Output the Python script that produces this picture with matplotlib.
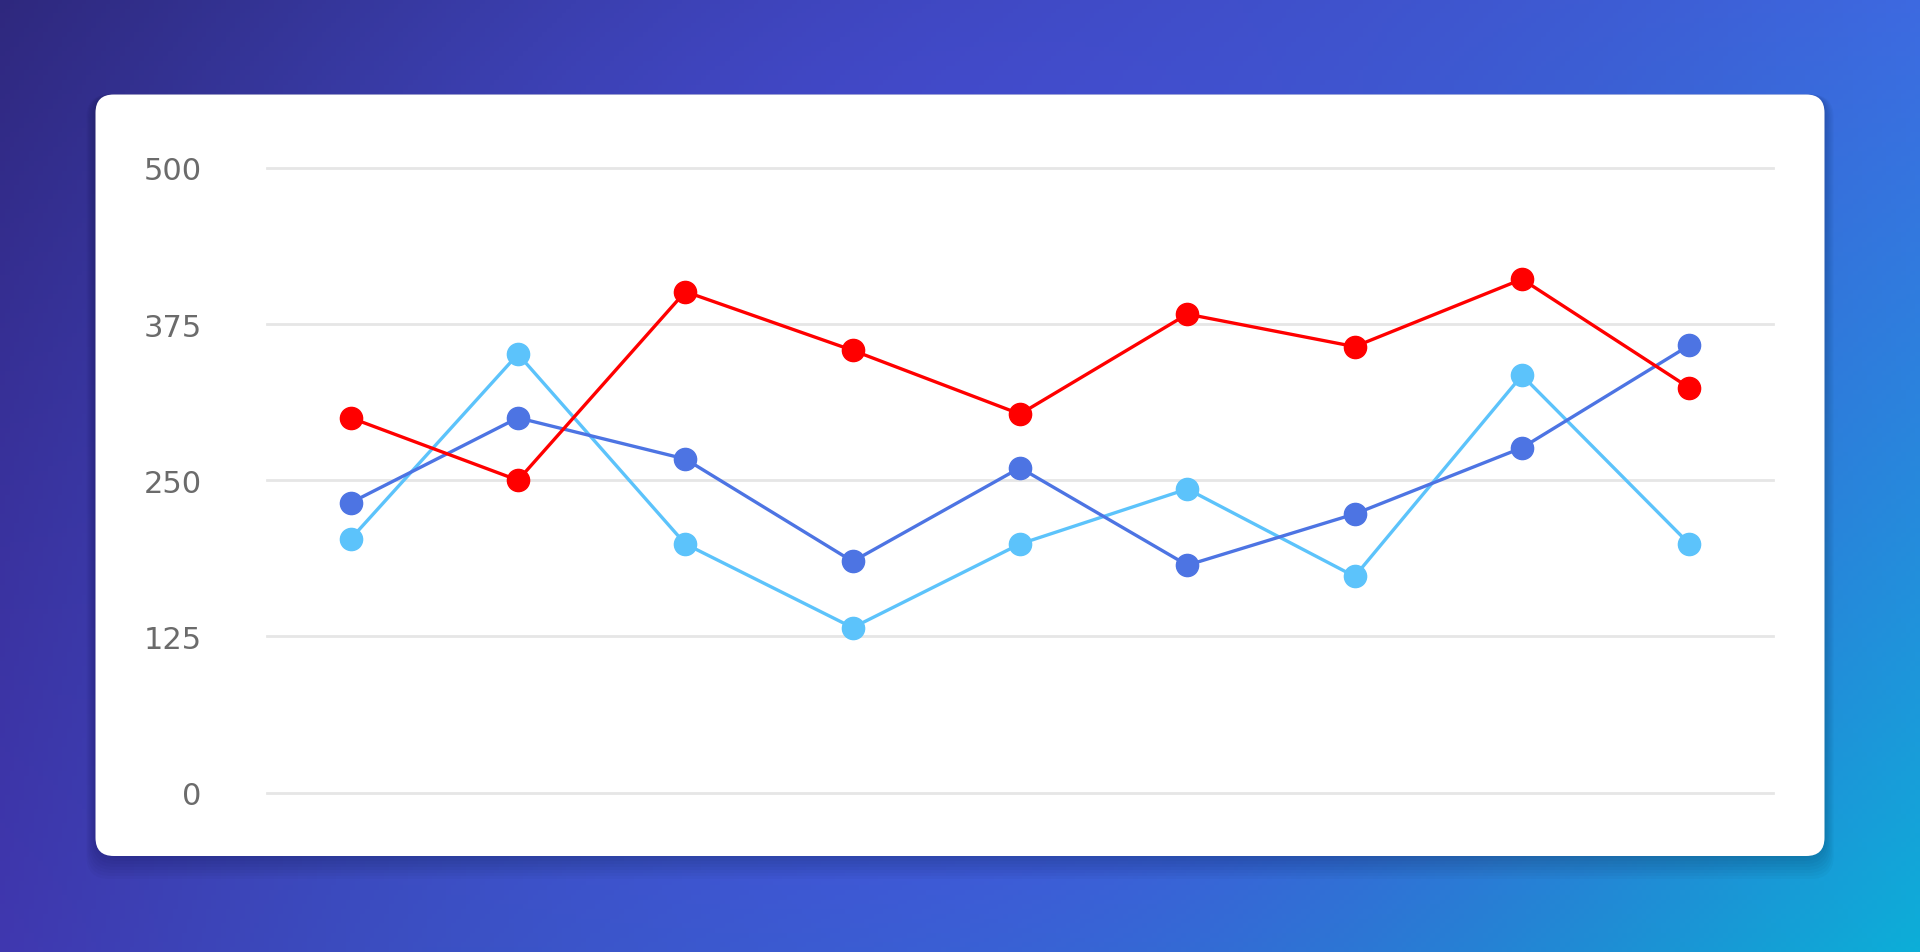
import numpy as np
import matplotlib
matplotlib.use("Agg")
import matplotlib.pyplot as plt
from matplotlib.patches import FancyBboxPatch

# values
points = list(range(9))
red_vals = [300, 250, 401, 354, 303, 383, 357, 411, 324]
blue_vals = [232, 300, 267, 185, 260, 182, 223, 276, 358]
light_vals = [203, 351, 199, 132, 199, 243, 173, 334, 199]
y_ticks = [0, 125, 250, 375, 500]

W, H = 1920, 953
fig = plt.figure(figsize=(W / 100, H / 100), dpi=100)

# gradient background
bg = fig.add_axes([0, 0, 1, 1])
bg.set_axis_off()
tl = np.array([44, 38, 118]) / 255
tr = np.array([60, 108, 224]) / 255
bl = np.array([62, 54, 170]) / 255
br = np.array([6, 184, 214]) / 255
mid = np.array([82, 72, 232]) / 255
u = np.linspace(0, 1, 400)[None, :, None]
v = np.linspace(0, 1, 200)[:, None, None]
img = (1 - u) * (1 - v) * tl + u * (1 - v) * tr + (1 - u) * v * bl + u * v * br
# violet glow across the middle
d = np.exp(-(((u - 0.5) / 0.38) ** 2 + ((v - 0.55) / 0.7) ** 2))
img = img * (1 - 0.75 * d) + mid * 0.75 * d
bg.imshow(np.clip(img, 0, 1), extent=[0, 1, 0, 1], aspect="auto", origin="upper")
bg.set_xlim(0, 1)
bg.set_ylim(0, 1)

# card with soft shadow
cx0, cy0, cx1, cy1 = 95.5, 95.5, 1824.5, 857
for k in range(8):
    g = 2 + k * 3
    bg.add_patch(FancyBboxPatch(((cx0 - g * 0.4) / W, 1 - (cy1 + g) / H),
                                (cx1 - cx0 + g * 0.8) / W, (cy1 - cy0 + g) / H,
                                boxstyle="round,pad=0,rounding_size=0.012",
                                fc="black", ec="none", alpha=0.025,
                                transform=bg.transAxes, mutation_aspect=W / H))
bg.add_patch(FancyBboxPatch((cx0 / W, 1 - cy1 / H), (cx1 - cx0) / W, (cy1 - cy0) / H,
                            boxstyle="round,pad=0,rounding_size=0.0095",
                            fc="white", ec="none", transform=bg.transAxes,
                            mutation_aspect=W / H))

# chart area
left, right = 267, 1773
top, bottom = 169, 793.5
ax = fig.add_axes([left / W, 1 - bottom / H, (right - left) / W, (bottom - top) / H])
ax.set_facecolor("none")
ax.set_xlim(-0.5, 8.5)
ax.set_ylim(0, 500)
for s in ax.spines.values():
    s.set_visible(False)
ax.set_xticks([])
ax.set_yticks(y_ticks)
ax.tick_params(axis="y", length=0, pad=47, labelsize=22, labelcolor="#6b6b6b")
ax.grid(axis="y", color="#e6e6e6", linewidth=2)
for gl in ax.get_ygridlines():
    gl.set_clip_on(False)
ax.set_axisbelow(True)

ax.plot(points, light_vals, color="#5cc3fb", lw=2.4, marker="o", ms=16,
        clip_on=False, zorder=3)
ax.plot(points, blue_vals, color="#4d74e3", lw=2.4, marker="o", ms=16,
        clip_on=False, zorder=4)
ax.plot(points, red_vals, color="#ff0000", lw=2.4, marker="o", ms=16,
        clip_on=False, zorder=5)

fig.savefig("out.png", dpi=100)
